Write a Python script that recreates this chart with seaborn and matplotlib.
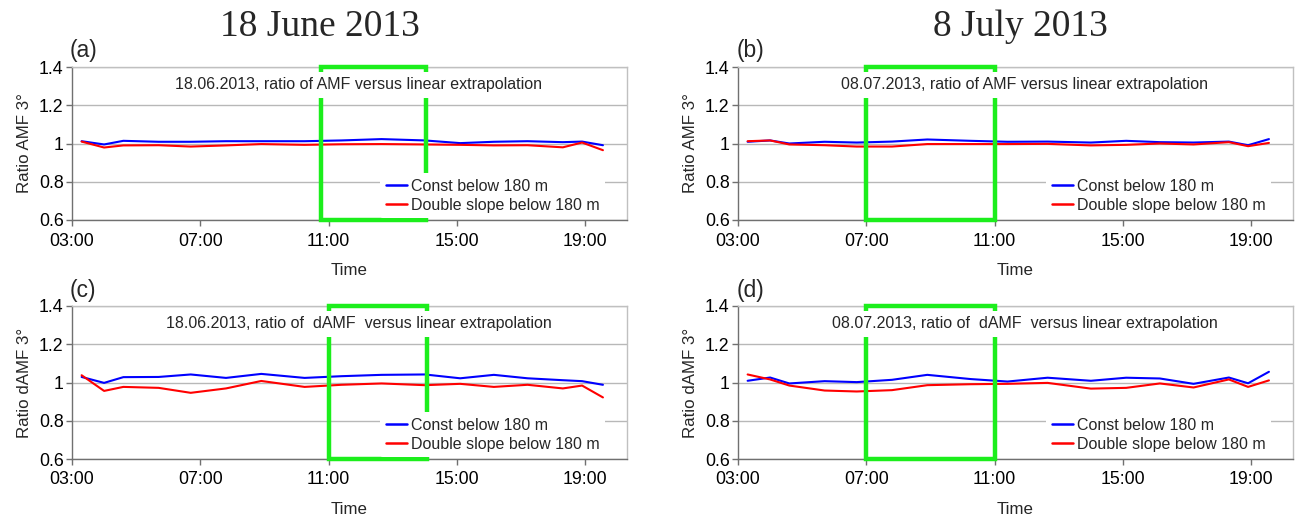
import numpy as np
import pandas as pd
import matplotlib
matplotlib.use("Agg")
import matplotlib.pyplot as plt
from matplotlib.patches import Rectangle
from matplotlib.ticker import FixedLocator, FuncFormatter
import matplotlib.transforms as mtransforms
import seaborn as sns

# Measurement times (local time, HH:MM), shared by both days
times = ["03:18", "04:00", "04:36", "05:42", "06:42", "07:48", "08:54", "10:15",
         "11:24", "12:39", "14:00", "15:06", "16:09", "17:12", "18:18", "18:54", "19:33"]

# 18 June 2013 - AMF ratio
amf_0618_const = [1.012, 0.995, 1.014, 1.009, 1.009, 1.012, 1.012, 1.012, 1.016,
                  1.023, 1.016, 1.002, 1.009, 1.012, 1.007, 1.010, 0.991]
amf_0618_double = [1.010, 0.979, 0.990, 0.991, 0.984, 0.990, 0.997, 0.993, 0.996,
                   0.997, 0.995, 0.993, 0.990, 0.991, 0.980, 1.005, 0.965]

# 08 July 2013 - AMF ratio
amf_0708_const = [1.009, 1.016, 1.000, 1.009, 1.005, 1.010, 1.021, 1.014, 1.009,
                  1.010, 1.005, 1.014, 1.007, 1.005, 1.010, 0.991, 1.023]
amf_0708_double = [1.012, 1.016, 0.995, 0.991, 0.984, 0.984, 0.997, 0.997, 0.997,
                   0.998, 0.990, 0.993, 1.000, 0.995, 1.007, 0.986, 1.003]

# 18 June 2013 - dAMF ratio
damf_0618_const = [1.029, 0.998, 1.028, 1.029, 1.042, 1.024, 1.045, 1.024, 1.033,
                   1.040, 1.042, 1.022, 1.040, 1.022, 1.012, 1.007, 0.988]
damf_0618_double = [1.038, 0.956, 0.977, 0.972, 0.946, 0.969, 1.008, 0.977, 0.988,
                    0.995, 0.986, 0.993, 0.977, 0.988, 0.969, 0.984, 0.922]

# 08 July 2013 - dAMF ratio
damf_0708_const = [1.009, 1.026, 0.995, 1.007, 1.002, 1.014, 1.040, 1.018, 1.005,
                   1.025, 1.009, 1.025, 1.021, 0.993, 1.026, 0.996, 1.056]
damf_0708_double = [1.042, 1.016, 0.984, 0.958, 0.953, 0.960, 0.986, 0.991, 0.993,
                    0.998, 0.968, 0.972, 0.995, 0.974, 1.016, 0.977, 1.011]

# Highlighted time windows
window_a = ("10:45", "14:02")
window_b = ("07:00", "11:00")
window_c = ("11:00", "14:04")
window_d = ("07:00", "11:00")

series_names = ["Const below 180 m", "Double slope below 180 m"]
x_tick_labels = ["03:00", "07:00", "11:00", "15:00", "19:00"]
y_ticks = [0.6, 0.8, 1.0, 1.2, 1.4]
day_titles = ["18 June 2013", "8 July 2013"]


def to_hours(t):
    h, m = t.split(":")
    return int(h) + int(m) / 60.0


hours = np.array([to_hours(t) for t in times])

sns.set_theme(style="white")
plt.rcParams["font.family"] = ["Liberation Sans", "DejaVu Sans"]
plt.rcParams["axes.unicode_minus"] = False

W, H = 1299, 518
fig = plt.figure(figsize=(W / 100, H / 100), dpi=100)
fig.patch.set_facecolor("white")

FS = 11.5        # in-plot title and legend
TICK_FS = 12.8   # tick labels
LABEL_FS = 12.2  # axis labels
BLUE = "#0000ff"
RED = "#ff0000"
GREEN = "#1cee1c"


def px_rect(x0, y0, x1, y1):
    return [x0 / W, 1 - y1 / H, (x1 - x0) / W, (y1 - y0) / H]


panels = [
    dict(rect=px_rect(72, 67, 627, 220), letter="(a)", lpos=(70, 50),
         title="18.06.2013, ratio of AMF versus linear extrapolation",
         ylabel="Ratio AMF 3°", const=amf_0618_const, double=amf_0618_double, win=window_a),
    dict(rect=px_rect(738, 67, 1293, 220), letter="(b)", lpos=(737, 50),
         title="08.07.2013, ratio of AMF versus linear extrapolation",
         ylabel="Ratio AMF 3°", const=amf_0708_const, double=amf_0708_double, win=window_b),
    dict(rect=px_rect(72, 306, 627, 459), letter="(c)", lpos=(70, 291),
         title="18.06.2013, ratio of  dAMF  versus linear extrapolation",
         ylabel="Ratio dAMF 3°", const=damf_0618_const, double=damf_0618_double, win=window_c),
    dict(rect=px_rect(738, 306, 1293, 459), letter="(d)", lpos=(737, 291),
         title="08.07.2013, ratio of  dAMF  versus linear extrapolation",
         ylabel="Ratio dAMF 3°", const=damf_0708_const, double=damf_0708_double, win=window_d),
]

for p in panels:
    ax = fig.add_axes(p["rect"])
    df = pd.concat([
        pd.DataFrame({"time": hours, "ratio": p["const"], "series": series_names[0]}),
        pd.DataFrame({"time": hours, "ratio": p["double"], "series": series_names[1]}),
    ])
    sns.lineplot(data=df, x="time", y="ratio", hue="series",
                 palette={series_names[0]: BLUE, series_names[1]: RED},
                 linewidth=1.5, ax=ax, zorder=3, legend=False)

    ax.set_xlim(3, 20.3)
    ax.set_ylim(0.6, 1.4)
    ax.yaxis.set_major_locator(FixedLocator(y_ticks))
    ax.yaxis.set_major_formatter(FuncFormatter(lambda v, _: f"{v:g}"))
    ax.xaxis.set_major_locator(FixedLocator([to_hours(t) for t in x_tick_labels]))
    ax.set_xticklabels(x_tick_labels)
    ax.grid(axis="y", color="#b8b8b8", linewidth=1.0, zorder=0)
    ax.set_axisbelow(True)
    for side in ["left", "bottom"]:
        ax.spines[side].set_color("#707070")
        ax.spines[side].set_linewidth(1.0)
    for side in ["top", "right"]:
        ax.spines[side].set_color("#c0c0c0")
        ax.spines[side].set_linewidth(1.0)
    ax.tick_params(axis="both", which="major", labelsize=TICK_FS, colors="#000000",
                   length=4, width=1, direction="out", left=True, bottom=True)
    ax.tick_params(axis="x", pad=5, color="#707070")
    ax.tick_params(axis="y", pad=2, color="#707070")
    ax.set_xlabel("Time", fontsize=LABEL_FS, labelpad=10)
    ax.set_ylabel(p["ylabel"], fontsize=LABEL_FS, labelpad=5)

    # highlighted window
    x0, x1 = to_hours(p["win"][0]), to_hours(p["win"][1])
    ax.add_patch(Rectangle((x0, 0.6), x1 - x0, 0.8, fill=False, edgecolor=GREEN,
                           linewidth=3.2, zorder=4, clip_on=False))

    blend = mtransforms.blended_transform_factory(ax.transAxes, ax.transData)
    ax.text(0.517, 1.306, p["title"], transform=blend,
            ha="center", va="center", fontsize=FS, zorder=6,
            bbox=dict(boxstyle="square,pad=0.35", facecolor="white", edgecolor="none"))

    handles = [plt.Line2D([], [], color=BLUE, lw=1.8), plt.Line2D([], [], color=RED, lw=1.8)]
    leg = ax.legend(handles, series_names, loc="upper left", bbox_to_anchor=(0.555, 0.307),
                    borderaxespad=0, borderpad=0.35, frameon=True, fontsize=FS,
                    handlelength=1.35, handletextpad=0.25, labelspacing=0.25)
    leg.get_frame().set_facecolor("white")
    leg.get_frame().set_edgecolor("none")
    leg.get_frame().set_alpha(1)
    leg.set_zorder(7)

    fig.text(p["lpos"][0] / W, 1 - p["lpos"][1] / H, p["letter"], fontsize=16.5,
             ha="left", va="center")

fig.text(320 / W, 1 - 27 / H, day_titles[0], fontsize=27, ha="center", va="center",
         family=["Liberation Serif", "DejaVu Serif"])
fig.text(1020 / W, 1 - 27 / H, day_titles[1], fontsize=27, ha="center", va="center",
         family=["Liberation Serif", "DejaVu Serif"])

fig.savefig("out.png", dpi=100, facecolor="white")
